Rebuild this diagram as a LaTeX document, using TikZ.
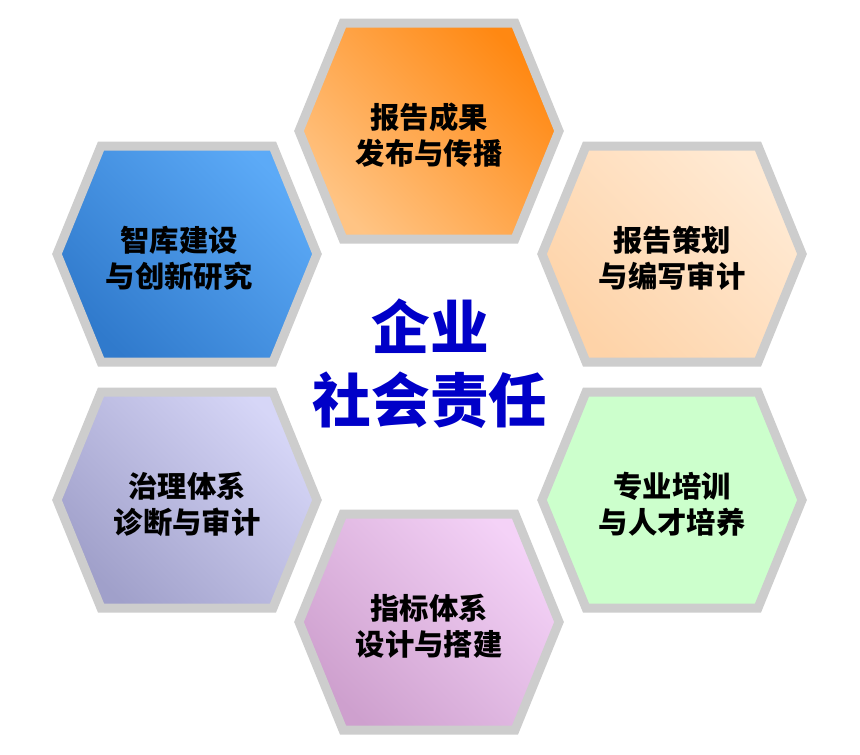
\documentclass[tikz,border=0pt]{standalone}
\usepackage{fontspec}
\newfontfamily\cjk{Noto Sans CJK SC}
\usetikzlibrary{positioning}

\definecolor{hexline}{RGB}{205,205,205}
\definecolor{csrblue}{RGB}{0,0,200}
\definecolor{pubA}{RGB}{255,196,132}
\definecolor{pubB}{RGB}{255,136,18}
\definecolor{planA}{RGB}{254,211,168}
\definecolor{planB}{RGB}{255,234,212}
\definecolor{trainA}{RGB}{204,255,204}
\definecolor{trainB}{RGB}{204,255,204}
\definecolor{indexA}{RGB}{206,160,206}
\definecolor{indexB}{RGB}{244,210,247}
\definecolor{govA}{RGB}{160,160,202}
\definecolor{govB}{RGB}{214,214,247}
\definecolor{thinkA}{RGB}{48,122,204}
\definecolor{thinkB}{RGB}{92,170,247}

\begin{document}
\begin{tikzpicture}
[x = 0.75pt, y = -0.75pt,
 hexcell/.style = {draw = hexline, line width = 6.75pt, line join = miter},
 hexlabel/.style = {align = center, font = \cjk\bfseries\fontsize{22}{27}\selectfont},
 csrlabel/.style = {align = center, text = csrblue, font = \cjk\bfseries\fontsize{44}{55}\selectfont}]
\useasboundingbox (0,0) rectangle (860,754);
\foreach \cx/\cy/\dx/\cola/\colb/\name/\txt in
  {429/131/0/pubA/pubB/pub/{报告成果\\发布与传播},
   672/254/0/planA/planB/plan/{报告策划\\与编写审计},
   672/500/0/trainA/trainB/train/{专业培训\\与人才培养},
   429/622/0/indexA/indexB/index/{指标体系\\设计与搭建},
   187/500/0/govA/govB/gov/{治理体系\\诊断与审计},
   187/254/-8/thinkA/thinkB/think/{智库建设\\与创新研究}}
{
  \shadedraw [hexcell, bottom color = \cola, top color = \colb, shading angle = -45]
    (\cx-130,\cy) -- (\cx-86,\cy-108) -- (\cx+86,\cy-108)
    -- (\cx+130,\cy) -- (\cx+86,\cy+108) -- (\cx-86,\cy+108) -- cycle;
  \node (\name) at (\cx+\dx,\cy+4) [hexlabel] {\txt};
}
\node (csr) at (430,364) [csrlabel] {企业\\社会责任};
\end{tikzpicture}
\end{document}
